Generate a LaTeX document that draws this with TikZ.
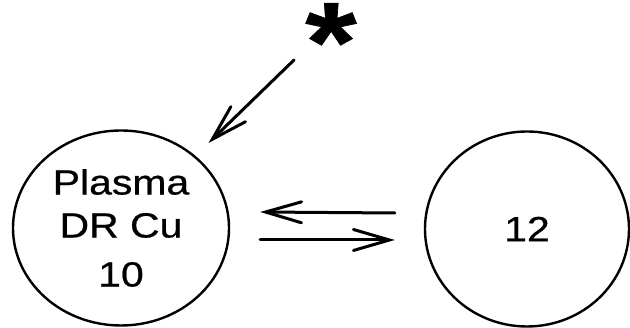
\documentclass[tikz,border=0pt]{standalone}
\usepackage{fontspec}
\setmainfont[FakeStretch=1.17,FakeBold=0.6]{Liberation Sans}
\usetikzlibrary{shapes.geometric,arrows.meta}
\begin{document}
\begin{tikzpicture}[x=1pt,y=1pt,
  cell/.style={ellipse,draw,line width=2.4pt,inner sep=0pt,minimum height=195pt},
  lbl/.style={font=\fontsize{35}{43}\selectfont,align=center},
  barb/.style={line width=3pt,line cap=round,-{Straight Barb[length=36pt,width=21pt,line cap=round]}}]
\useasboundingbox (0,0) rectangle (630,328);
\node[cell,lbl,minimum width=216pt] (plasma) at (121,100) {Plasma\\DR Cu\\[6pt]10};
\node[cell,lbl,minimum width=204pt] (cell12) at (527,99) {12};
\node[font=\fontsize{113}{113}\selectfont\bfseries,inner sep=0pt,
      text height=74pt,text depth=-37pt] (ast) at (331,284) {*};
\coordinate (astfoot) at (294,268);
% exchange between the two cells
\draw[barb] ([xshift=-29pt,yshift=16pt]cell12.west) -- ([xshift=30pt,yshift=16pt]plasma.east);
\draw[barb] ([xshift=30pt,yshift=-12pt]plasma.east) -- ([xshift=-29pt,yshift=-11pt]cell12.west);
\draw[barb,shorten >=122pt] (astfoot) -- (plasma.center);
\end{tikzpicture}
\end{document}
